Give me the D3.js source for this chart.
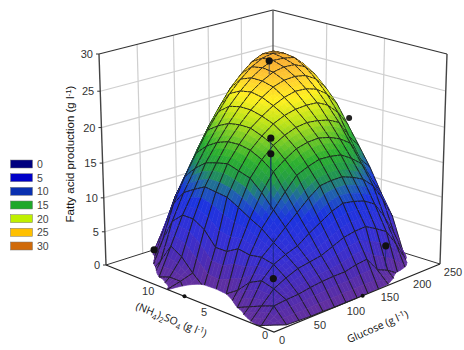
<!DOCTYPE html>
<html>
<head>
<meta charset="utf-8">
<script src="https://cdn.jsdelivr.net/npm/d3@7"></script>
<style>
body { margin: 0; background: #fff; }
text { font-family: "Liberation Sans", Arial, sans-serif; }
</style>
</head>
<body>
<svg id="chart" width="464" height="350"></svg>
<script>
const glucoseTicks = [0, 50, 100, 150, 200, 250];
const nh4Ticks = [0, 5, 10];
const prodTicks = [0, 5, 10, 15, 20, 25, 30];
const legendValues = [0, 5, 10, 15, 20, 25, 30];
const legendColors = ["#00007f", "#0000c8", "#0a30b0", "#1fa82a", "#bff000", "#ffc000", "#d06a0a"];

// measured points (glucose, nh4, production) and the far end of their stems
const dotGlucose = [184, 123, 123, 62, 66, 0, 125, 250];
const dotNh4 = [11.4, 7.6, 7.6, 3.75, 15, 7.5, 0, 4.5];
const dotProd = [25.9, 18.5, 16.3, 2.6, 0, 0, 0, 0.2];
const stemLow = [24, 8.2, 8.2, -2, 0, 0, 0, -3];
const stemHigh = [25.9, 18.5, 16.3, 8.5, 0, 0, 0, 0.2];

// fitted surface, one row per g/l of nh4 (0..15), one column per 1/15 of the glucose range
const surface = [
  [1.0, 0.3, 0.2, 0.1, 0.1, 0.0, 0.0, -0.0, -0.1, -0.2, -0.2, -1, -3, -4, -6, -9],
  [0.2, 2.3, 2.5, 2.6, 2.9, 3.1, 3.2, 3.2, 3.6, 3.8, 1.6, 0.9, -0.2, -1, -2, -4],
  [-0.3, 1.6, 3.4, 4.3, 5.0, 5.3, 5.6, 6.3, 7.0, 7.3, 7.4, 6.5, 5.5, 3.0, 0.0, -2],
  [-1, 0.8, 3.9, 5.6, 6.4, 7.0, 8.2, 9.2, 10.2, 10.8, 10.5, 10.0, 9.0, 6.5, 3.5, 0.0],
  [-3, 0.0, 3.0, 6.0, 7.5, 9.1, 10.6, 12.1, 13.3, 13.5, 13.5, 12.9, 12.1, 10.6, 8.0, 5.0],
  [-9, -1.5, 1.2, 5.7, 8.9, 11.0, 13.0, 14.8, 15.5, 16.0, 15.9, 15.6, 14.6, 13.3, 10.5, 8.0],
  [-9, -3, 0.0, 6.0, 9.8, 12.9, 15.3, 16.5, 17.5, 17.9, 18.0, 17.6, 16.9, 15.8, 13.0, 11.3],
  [-9, -6, -0.6, 5.0, 10.8, 14.4, 16.5, 18.0, 18.9, 19.5, 19.7, 19.5, 19.1, 18.3, 15.8, 14.0],
  [-9, -3, -0.3, 5.0, 11.7, 14.9, 17.3, 18.8, 20.0, 20.7, 21.1, 21.2, 21.1, 20.3, 18.8, 16.6],
  [0.1, 0.6, 1.2, 7.0, 11.9, 15.4, 17.6, 19.4, 20.6, 21.6, 22.3, 22.7, 22.6, 22.1, 21.0, 19.2],
  [-1, 0.6, 3.0, 8.0, 12.1, 15.0, 17.5, 19.4, 21.0, 22.3, 23.3, 23.8, 23.9, 23.6, 22.7, 21.0],
  [-4, 0.0, 4.0, 8.0, 11.2, 14.5, 16.9, 19.1, 21.0, 22.6, 23.7, 24.5, 24.8, 24.7, 24.0, 22.5],
  [-9, -2, 1.2, 6.5, 10.2, 13.2, 15.9, 18.3, 20.6, 22.3, 23.7, 24.7, 25.3, 25.2, 24.9, 23.5],
  [-9, -4, -1, 3.0, 8.0, 11.5, 14.4, 17.2, 19.4, 21.5, 23.1, 24.4, 25.2, 25.5, 25.1, 24.0],
  [-9, -8, -4, -0.8, 3.6, 8.0, 11.0, 14.0, 16.8, 19.2, 21.4, 23.0, 24.3, 25.0, 25.0, 24.3],
  [-9, -9, -6, -2, 0.0, 3.5, 5.5, 9.0, 12.5, 15.5, 18.0, 20.0, 21.8, 23.0, 23.7, 24.0]
];

const svg = d3.select("#chart");

const u = d3.scaleLinear().domain([0, 250]).range([0, 1]);
const v = d3.scaleLinear().domain([0, 15]).range([0, 1]);
const w = d3.scaleLinear().domain([0, 30]).range([0, 1]);

function homography(p) {
  const [x0,y0]=p[0],[x1,y1]=p[1],[x2,y2]=p[2],[x3,y3]=p[3];
  const dx1=x1-x2,dx2=x3-x2,sx=x0-x1+x2-x3,dy1=y1-y2,dy2=y3-y2,sy=y0-y1+y2-y3;
  const det=dx1*dy2-dx2*dy1;
  const g=(sx*dy2-dx2*sy)/det,h=(dx1*sy-sx*dy1)/det;
  const a=x1-x0+g*x1,b=x3-x0+h*x3,d=y1-y0+g*y1,e=y3-y0+h*y3;
  return (s,t)=>{const q=g*s+h*t+1;return [(a*s+b*t+x0)/q,(d*s+e*t+y0)/q];};
}
const floorH = homography([[274,332],[440,264],[273,212],[106,265]]);
const topH = homography([[273.5,110],[447,54],[273,10],[99,54]]);
// s = glucose, t = nh4, r = height, all 0..1
function project(s, t, r) {
  const a=floorH(s,t),b=topH(s,t);
  const k=r*0.934/(r*0.934+1-r);
  return [a[0]+(b[0]-a[0])*k,a[1]+(b[1]-a[1])*k];
}
const P = (g, n, z) => project(u(g), v(n), w(z));

const surfaceColor = d3.scaleLinear()
  .domain([0, 3, 6, 10, 12, 14, 16, 18, 20, 22, 24, 26])
  .range(["#64309c","#4c2cb4","#3630d4","#1c34e0","#2060b0","#22984c","#2cb030","#70c828","#c0e418","#fff020","#ffc830","#f5a030"])
  .clamp(true);

const line = d3.line();
const walls = svg.append("g");
function wallLine(a, b, color, sw) {
  walls.append("path").attr("d", line([a, b])).attr("fill","none").attr("stroke",color).attr("stroke-width",sw);
}
prodTicks.slice(1, -1).forEach(z => {
  wallLine(P(0,15,z), P(250,15,z), "#cfcfcf", 1.2);
  wallLine(P(250,15,z), P(250,0,z), "#cfcfcf", 1.2);
});
glucoseTicks.slice(1, -1).forEach(g => wallLine(P(g,15,0), P(g,15,30), "#cfcfcf", 1.2));
[5, 10].forEach(n => wallLine(P(250,n,0), P(250,n,30), "#cfcfcf", 1.2));
wallLine(P(0,15,30), P(250,15,30), "#333", 1.2);
wallLine(P(250,15,30), P(250,0,30), "#333", 1.2);
wallLine(P(0,15,0), P(0,15,30), "#444", 1.4);
wallLine(P(250,15,0), P(250,15,30), "#555", 1.3);
wallLine(P(250,0,0), P(250,0,30), "#444", 1.4);
wallLine(P(0,15,0), P(250,15,0), "#333", 1);
wallLine(P(250,15,0), P(250,0,0), "#333", 1);

// this one sits behind the surface edge
svg.append("circle").attr("cx", P(250,7.9,17.6)[0]).attr("cy", P(250,7.9,17.6)[1]).attr("r", 3).attr("fill", "#222");

const sub = 3, n = surface.length - 1, fine = n * sub;
function zAt(fi, fj) {
  const a=fi/sub,b=fj/sub,i=Math.min(n-1,Math.floor(a)),j=Math.min(n-1,Math.floor(b)),p=a-i,q=b-j;
  return surface[j][i]*(1-p)*(1-q)+surface[j][i+1]*p*(1-q)+surface[j+1][i]*(1-p)*q+surface[j+1][i+1]*p*q;
}
function clipPoly(pts) {
  const out=[];
  pts.forEach((a,k)=>{
    const b=pts[(k+1)%pts.length];
    if(a[2]>=0) out.push(a);
    if((a[2]>=0)!==(b[2]>=0)){const t=a[2]/(a[2]-b[2]);out.push([a[0]+(b[0]-a[0])*t,a[1]+(b[1]-a[1])*t,0]);}
  });
  return out;
}
function clipSeg(a,b){
  if(a[2]<0&&b[2]<0) return null;
  if(a[2]>=0&&b[2]>=0) return [a,b];
  const t=a[2]/(a[2]-b[2]),c=[a[0]+(b[0]-a[0])*t,a[1]+(b[1]-a[1])*t,0];
  return a[2]>=0?[a,c]:[c,b];
}
const scr = p => project(p[0]/fine, p[1]/fine, w(Math.max(0,p[2])));
const items = [];
const order = [];
for (let j=0;j<fine;j++) for (let i=0;i<fine;i++) order.push([i,j]);
order.sort((a,b)=>(b[0]+b[1])-(a[0]+a[1]));
order.forEach(([i,j])=>{
  const c=[[i,j,zAt(i,j)],[i+1,j,zAt(i+1,j)],[i+1,j+1,zAt(i+1,j+1)],[i,j+1,zAt(i,j+1)]];
  const poly=clipPoly(c);
  if(poly.length<3) return;
  const zm=d3.mean(poly,p=>p[2]);
  const col=surfaceColor(zm);
  items.push({d:line(poly.map(scr))+"Z",fill:col,stroke:col,sw:0.6});
  [[0,1,j%sub===0],[1,2,(i+1)%sub===0],[2,3,(j+1)%sub===0],[3,0,i%sub===0]].forEach(([a,b,on])=>{
    if(!on) return;
    const s=clipSeg(c[a],c[b]);
    if(s) items.push({d:line(s.map(scr)),fill:"none",stroke:"#1c1c1c",sw:0.9});
  });
});
svg.append("g").selectAll("path").data(items).join("path")
  .attr("d",d=>d.d).attr("fill",d=>d.fill).attr("stroke",d=>d.stroke).attr("stroke-width",d=>d.sw).attr("stroke-linejoin","round");

svg.append("path").attr("d", line([P(0,15,0),P(0,0,0),P(250,0,0)])).attr("fill","none").attr("stroke","#222").attr("stroke-width",1.2);

dotGlucose.forEach((g,i)=>{
  const a=P(g,dotNh4[i],stemLow[i]),b=P(g,dotNh4[i],stemHigh[i]);
  svg.append("path").attr("d",line([a,b])).attr("stroke","#12246a").attr("stroke-width",1).attr("opacity",0.7);
  const p=P(g,dotNh4[i],dotProd[i]);
  svg.append("circle").attr("cx",p[0]).attr("cy",p[1]).attr("r",dotProd[i]===0&&dotNh4[i]!==15?2:3.6).attr("fill","#111");
});

const tickFill = "#333";
prodTicks.forEach(z=>{
  const p=P(0,15,z);
  svg.append("line").attr("x1",p[0]-3).attr("x2",p[0]).attr("y1",p[1]).attr("y2",p[1]).attr("stroke","#333");
  svg.append("text").attr("x",p[0]-6).attr("y",p[1]+4).attr("text-anchor","end").attr("font-size",11).attr("fill",tickFill).text(z);
});
glucoseTicks.forEach(g=>{
  const p=P(g,0,0);
  svg.append("text").attr("x",p[0]+8+g/50).attr("y",p[1]+12).attr("text-anchor","middle").attr("font-size",11).attr("fill",tickFill).text(g);
});
nh4Ticks.forEach(m=>{
  const p=P(0,m,0);
  svg.append("text").attr("x",p[0]-9).attr("y",p[1]+7+m/3.3).attr("text-anchor","middle").attr("font-size",11).attr("fill",tickFill).text(m);
});

const yTitle = svg.append("text").attr("transform","translate(74,154) rotate(-90)").attr("text-anchor","middle").attr("font-size",11.5).attr("fill","#111");
yTitle.append("tspan").text("Fatty acid production (g l");
yTitle.append("tspan").attr("dy",-3).attr("font-size",8).text("-1");
yTitle.append("tspan").attr("dy",3).text(")");

const xTitle = svg.append("text").attr("transform","translate(379,330) rotate(-24)").attr("text-anchor","middle").attr("font-size",10.5).attr("fill","#111").style("font-family","'Open Sans'");
xTitle.append("tspan").text("Glucose (g l");
xTitle.append("tspan").attr("dy",-3).attr("font-size",7.5).text("-1");
xTitle.append("tspan").attr("dy",3).text(")");

const nTitle = svg.append("text").attr("transform","translate(170,323) rotate(22)").attr("text-anchor","middle").attr("font-size",10.5).attr("fill","#111").style("font-family","'Open Sans'");
nTitle.append("tspan").text("(NH");
nTitle.append("tspan").attr("dy",3).attr("font-size",7.5).text("4");
nTitle.append("tspan").attr("dy",-3).text(")");
nTitle.append("tspan").attr("dy",3).attr("font-size",7.5).text("2");
nTitle.append("tspan").attr("dy",-3).text("SO");
nTitle.append("tspan").attr("dy",3).attr("font-size",7.5).text("4");
nTitle.append("tspan").attr("dy",-3).text(" (g l");
nTitle.append("tspan").attr("dy",-3).attr("font-size",7.5).text("-1");
nTitle.append("tspan").attr("dy",3).text(")");

const legendY = d3.scalePoint().domain(legendValues).range([164, 246]);
const legend = svg.append("g").selectAll("g").data(legendValues).join("g");
legend.append("rect").attr("x",10.5).attr("y",d=>legendY(d)-4).attr("width",22).attr("height",8)
  .attr("fill",(d,i)=>legendColors[i]).attr("stroke","#777").attr("stroke-width",0.5);
legend.append("text").attr("x",37).attr("y",d=>legendY(d)+4).attr("font-size",10.5).attr("fill","#444").text(d=>d);
</script>
</body>
</html>
